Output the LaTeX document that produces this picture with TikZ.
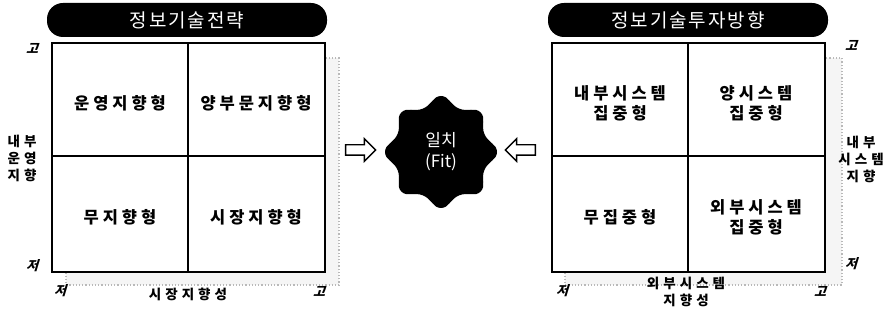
\documentclass[tikz,border=0pt]{standalone}
\usepackage{fontspec}
\usetikzlibrary{shapes.arrows}
\newfontfamily\kr{Noto Sans CJK KR}
\newfontfamily\krsp[LetterSpace=24]{Noto Sans CJK KR}
\newfontfamily\krax[LetterSpace=30]{Noto Sans CJK KR}
\newfontfamily\krtitle[LetterSpace=10]{Noto Sans CJK KR}
\newfontfamily\krsl[FakeSlant=0.3]{Noto Sans CJK KR}
\tikzset{
  x=1pt, y=-1pt,
  cell/.style={font=\krsp\bfseries\fontsize{16.5}{20}\selectfont, align=center, inner sep=0},
  pill/.style={fill=black, rounded corners=16pt, text=white, font=\krtitle\fontsize{19}{20}\selectfont, minimum height=34pt, inner sep=0},
  grid/.style={draw=black, line width=1.6pt, fill=white},
  shadowbox/.style={draw=gray!55, dotted, line width=1.2pt, fill=gray!8},
  hl/.style={font=\krsl\bfseries\fontsize{13}{13}\selectfont, inner sep=0},
  axis/.style={font=\krax\bfseries\fontsize{13.5}{17}\selectfont, align=center, inner sep=0},
  blockarrow/.style={single arrow, draw=black, line width=1.4pt, fill=white, minimum height=30pt,
     text height=0pt, text depth=0pt, text width=0pt, inner xsep=0pt, inner ysep=4.5pt,
     single arrow head extend=6pt},
}
\begin{document}
\begin{tikzpicture}
\useasboundingbox (0,0) rectangle (886,320);
% ---------- left panel ----------
\node[pill, minimum width=280pt] (t1) at (187,20) {정보기술전략};
\draw[shadowbox] (66,58) rectangle (339,285);
\draw[grid] (52,43) rectangle (325,272);
\draw[line width=1.6pt] (188,43) -- (188,272);
\draw[line width=1.6pt] (52,156) -- (325,156);
\node[cell] (a1) at (120,103) {운영지향형};
\node[cell] (a2) at (256,103) {양부문지향형};
\node[cell] (a3) at (120,217) {무지향형};
\node[cell] (a4) at (256,217) {시장지향형};
\node[hl] (lh1) at (32,48) {고};
\node[hl] (ll1) at (32,266) {저};
\node[axis] (ly) at (22,158) {내부\\운영\\지향};
\node[hl] (bl1) at (60,291) {저};
\node[axis] (bx) at (188,294) {시장지향성};
\node[hl] (bh1) at (319,291) {고};
% ---------- centre ----------
\node[blockarrow] (ar1) at (358,150) {};
\node[blockarrow, shape border rotate=180] (ar2) at (523,150) {};
\fill[black] plot[smooth cycle, tension=0.8] coordinates {
  (497,152) (484.4,134) (480.6,112.4) (459,108.6) (441,96) (423,108.6) (401.4,112.4) (397.6,134)
  (385,152) (397.6,170) (401.4,191.6) (423,195.4) (441,208) (459,195.4) (480.6,191.6) (484.4,170)};
\node[text=white, font=\kr\fontsize{17}{21}\selectfont, align=center, inner sep=0] (fit) at (441,152) {일치\\(Fit)};
% ---------- right panel ----------
\node[pill, minimum width=280pt] (t2) at (688,20) {정보기술투자방향};
\draw[shadowbox] (565,58) rectangle (842,285);
\draw[grid] (552,43) rectangle (825,272);
\draw[line width=1.6pt] (688,43) -- (688,272);
\draw[line width=1.6pt] (552,156) -- (825,156);
\node[cell] (b1) at (620,103) {내부시스템\\집중형};
\node[cell] (b2) at (756,103) {양시스템\\집중형};
\node[cell] (b3) at (620,217) {무집중형};
\node[cell] (b4) at (756,217) {외부시스템\\집중형};
\node[hl] (rh1) at (851,45) {고};
\node[hl] (rl1) at (851,264) {저};
\node[axis] (ry) at (861,159) {내부\\시스템\\지향};
\node[hl] (bl2) at (562,291) {저};
\node[axis] (bx2) at (686,292) {외부시스템\\지향성};
\node[hl] (bh2) at (820,291) {고};
\end{tikzpicture}
\end{document}
